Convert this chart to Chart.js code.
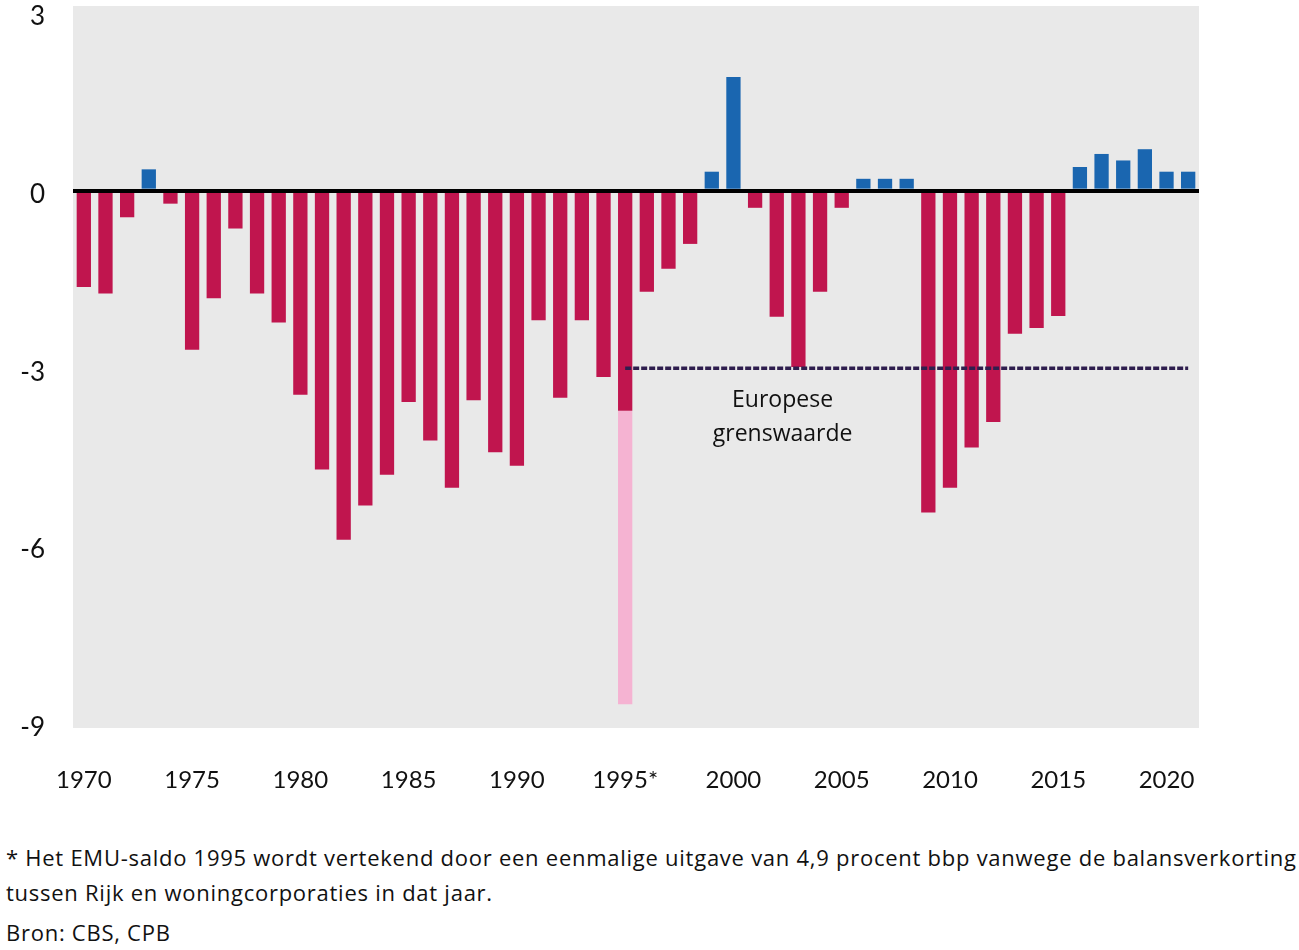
<!DOCTYPE html>
<html>
<head>
<meta charset="utf-8">
<script src="https://cdn.jsdelivr.net/npm/chart.js@4/dist/chart.umd.min.js"></script>
<style>
  html, body { margin: 0; padding: 0; background: #fff; }
  #wrap { position: relative; width: 1299px; height: 800px; }
  .note { font-family: 'Open Sans', sans-serif; font-size: 22px; color: #111; position: absolute; left: 6px; white-space: nowrap; letter-spacing: 0.74px; }
</style>
</head>
<body>
<div id="wrap"><canvas id="saldoChart" width="1299" height="800"></canvas></div>
<div class="note" style="top:842px">* Het EMU-saldo 1995 wordt vertekend door een eenmalige uitgave van 4,9 procent bbp vanwege de balansverkorting</div>
<div class="note" style="top:877px">tussen Rijk en woningcorporaties in dat jaar.</div>
<div class="note" style="top:917px">Bron: CBS, CPB</div>
<script>
const years = [];
for (let y = 1970; y <= 2021; y++) years.push(String(y));

// EMU-saldo, % bbp
const saldo = [
  -1.63, -1.74, -0.45, 0.36, -0.22, -2.69, -1.82, -0.64, -1.74, -2.23,
  -3.45, -4.71, -5.90, -5.32, -4.80, -3.57, -4.22, -5.02, -3.54, -4.42,
  -4.65, -2.19, -3.50, -2.19, -3.15, -3.72, -1.71, -1.32, -0.90, 0.32,
  1.92, -0.29, -2.13, -2.98, -1.71, -0.29, 0.20, 0.20, 0.20, -5.44,
  -5.02, -4.34, -3.91, -2.42, -2.32, -2.12, 0.40, 0.62, 0.51, 0.70,
  0.32, 0.32,
];
// eenmalige uitgave 1995 (balansverkorting)
const oneOff = { '1995': -4.96 };
const euLimit = -3;
const yTicks = [3, 0, -3, -6, -9];

const negative = saldo.map((v) => (v < 0 ? v : null));
const positive = saldo.map((v) => (v > 0 ? v : null));
const extra = years.map((y) => (oneOff[y] !== undefined ? oneOff[y] : null));
const limitLine = years.map((y) => (Number(y) >= 1995 ? euLimit : null));

const plotBg = {
  id: 'plotBg',
  beforeDraw(chart) {
    const { ctx, chartArea: a } = chart;
    ctx.save();
    ctx.fillStyle = '#e9e9e9';
    ctx.fillRect(a.left, a.top, a.right - a.left, a.bottom - a.top);
    ctx.restore();
  },
  afterDatasetsDraw(chart) {
    const { ctx, scales } = chart;
    const x = (scales.x.getPixelForValue(32) + scales.x.getPixelForValue(33)) / 2 - 5;
    ctx.save();
    ctx.font = '23px "Open Sans", sans-serif';
    ctx.fillStyle = '#111';
    ctx.textAlign = 'center';
    ctx.textBaseline = 'middle';
    ctx.fillText('Europese', x, scales.y.getPixelForValue(-3.55));
    ctx.fillText('grenswaarde', x, scales.y.getPixelForValue(-4.12));
    ctx.restore();
  },
};

const ctx = document.getElementById('saldoChart').getContext('2d');
new Chart(ctx, {
  type: 'bar',
  data: {
    labels: years,
    datasets: [
      {
        label: 'Europese grenswaarde',
        type: 'line',
        data: limitLine,
        stack: 'limit',
        borderColor: '#2f1e4e',
        borderWidth: 3.5,
        borderDash: [6, 2],
        pointRadius: 0,
        fill: false,
        order: 0,
      },
      {
        label: 'tekort',
        data: negative,
        backgroundColor: '#c0154e',
        barPercentage: 0.66,
        categoryPercentage: 1,
        order: 1,
      },
      {
        label: 'overschot',
        data: positive,
        backgroundColor: '#1a66b0',
        barPercentage: 0.66,
        categoryPercentage: 1,
        order: 1,
      },
      {
        label: 'eenmalig',
        data: extra,
        backgroundColor: '#f5b3d2',
        barPercentage: 0.66,
        categoryPercentage: 1,
        order: 1,
      },
    ],
  },
  options: {
    responsive: false,
    animation: false,
    layout: { padding: { left: 0, right: 100, top: 6, bottom: 0 } },
    plugins: {
      legend: { display: false },
      tooltip: { enabled: false },
    },
    scales: {
      x: {
        stacked: true,
        grid: { display: false },
        border: { display: false },
        afterFit(scale) { scale.height = 72; },
        ticks: {
          autoSkip: false,
          maxRotation: 0,
          padding: 30,
          color: '#111',
          font: { family: 'Lato, sans-serif', size: 24 },
          callback(value) {
            const y = Number(this.getLabelForValue(value));
            if (y % 5 !== 0) return '';
            return y === 1995 ? '1995*' : String(y);
          },
        },
      },
      y: {
        stacked: true,
        min: -9.08,
        max: 3.12,
        afterBuildTicks(scale) { scale.ticks = yTicks.map((v) => ({ value: v })); },
        afterFit(scale) {
          scale.width = 73;
          scale.paddingTop = 0;
          scale.paddingBottom = 0;
        },
        border: { display: false },
        grid: {
          drawTicks: false,
          color: (c) => (c.tick && c.tick.value === 0 ? '#000' : 'rgba(0,0,0,0)'),
          lineWidth: (c) => (c.tick && c.tick.value === 0 ? 4 : 0),
          z: 1,
        },
        ticks: {
          padding: 28,
          labelOffset: 4,
          color: '#111',
          font: { family: 'Lato, sans-serif', size: 26 },
        },
      },
    },
  },
  plugins: [plotBg],
});
</script>
</body>
</html>
